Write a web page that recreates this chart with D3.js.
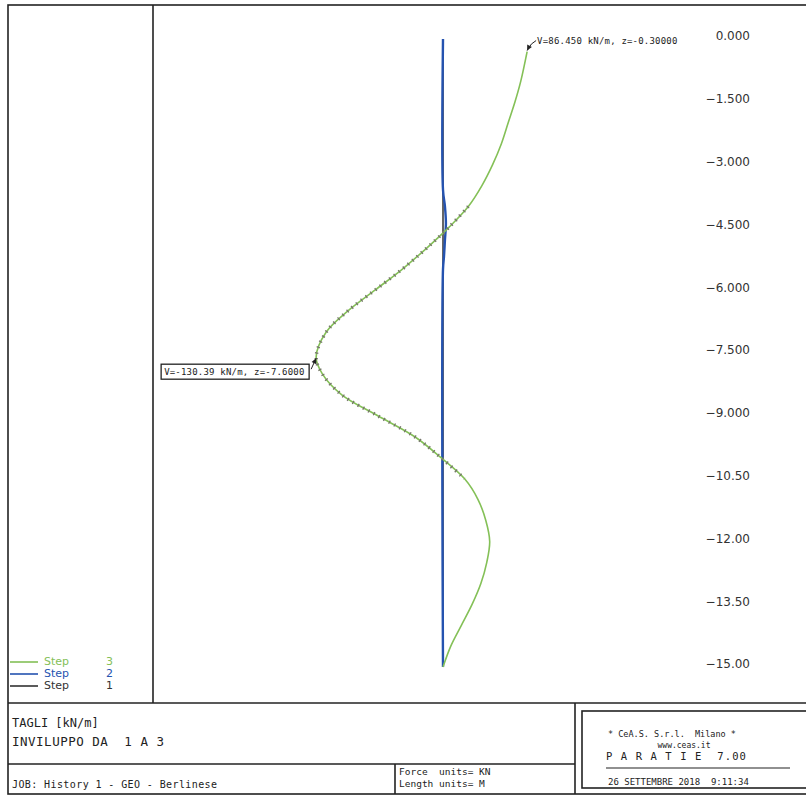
<!DOCTYPE html>
<html>
<head>
<meta charset="utf-8">
<script src="https://cdn.jsdelivr.net/npm/d3@7"></script>
<style>
	body { margin: 0; background: #fff; }
	svg { display: block; }
	.frame { fill: none; stroke: #222; stroke-width: 1.6; }
	.mono { font-family: "DejaVu Sans Mono", monospace; fill: #222; white-space: pre; }
	.tick text { font-family: "DejaVu Sans", sans-serif; font-size: 12px; fill: #333; }
</style>
</head>
<body>
<svg id="chart" width="806" height="796"></svg>
<script>
'use strict';

var STEP3_COLOR = "#84c057";
var STEP2_COLOR = "#2553b0";
var STEP1_COLOR = "#333333";

// depth (m) and shear V (kN/m), envelope step 3
var step3Depth = [-0.3, -1.0, -1.5, -2.0, -2.5, -3.0, -3.5, -4.0, -4.5, -5.0, -5.5, -6.0, -6.5, -7.0, -7.6,
	-8.0, -8.5, -9.0, -9.5, -10.0, -10.5, -11.0, -11.5, -12.0, -12.5, -13.0, -13.5, -14.0, -14.5, -15.0];
var step3V = [86.45, 80, 74, 67, 60, 51, 40, 26, 6, -17, -42, -70, -98, -120, -130.39,
	-124, -104, -67, -29, -2, 22, 36, 44, 48, 45, 39, 30, 19, 8, 0];

// step 2: almost zero, small bulge near -4.5 m
var step2Depth = [0, -3.6, -4.0, -4.4, -4.8, -5.2, -5.5, -15];
var step2V = [0, 0, 2, 3, 2, 1, 0, 0];

// step 1: zero
var step1Depth = [0, -15];
var step1V = [0, 0];

var tickDepths = [0, -1.5, -3, -4.5, -6, -7.5, -9, -10.5, -12, -13.5, -15];
var tickLabels = ["0.000", "\u22121.500", "\u22123.000", "\u22124.500", "\u22126.000", "\u22127.500",
	"\u22129.000", "\u221210.50", "\u221212.00", "\u221213.50", "\u221215.00"];

var legendItems = [
	{ label: "Step", n: "3", color: STEP3_COLOR },
	{ label: "Step", n: "2", color: STEP2_COLOR },
	{ label: "Step", n: "1", color: STEP1_COLOR }
];

var svg = d3.select("#chart");

var y = d3.scaleLinear().domain([0, -15]).range([39, 667]);
var x = d3.scaleLinear().domain([0, 100]).range([443, 540.3]);

function toPoints(depths, values) {
	return depths.map(function (d, i) { return { z: d, v: values[i] }; });
}

var line = d3.line()
	.x(function (d) { return x(d.v); })
	.y(function (d) { return y(d.z); })
	.curve(d3.curveCatmullRom);

// ---- frame
svg.append("rect").attr("class", "frame")
	.attr("x", 8).attr("y", 5).attr("width", 810).attr("height", 789);
svg.append("line").attr("class", "frame")
	.attr("x1", 153).attr("x2", 153).attr("y1", 5).attr("y2", 703);
svg.append("line").attr("class", "frame")
	.attr("x1", 8).attr("x2", 806).attr("y1", 703).attr("y2", 703);
svg.append("line").attr("class", "frame")
	.attr("x1", 8).attr("x2", 575).attr("y1", 764).attr("y2", 764);
svg.append("line").attr("class", "frame")
	.attr("x1", 395).attr("x2", 395).attr("y1", 764).attr("y2", 794);
svg.append("line").attr("class", "frame")
	.attr("x1", 575).attr("x2", 575).attr("y1", 703).attr("y2", 794);
svg.append("rect").attr("class", "frame")
	.attr("x", 582).attr("y", 711).attr("width", 240).attr("height", 77);
svg.append("line").attr("class", "frame").style("stroke-width", 1.2)
	.attr("x1", 606).attr("x2", 790).attr("y1", 768).attr("y2", 768);

// ---- depth labels
var axis = svg.append("g")
	.attr("transform", "translate(750,-3)")
	.call(d3.axisLeft(y)
		.tickValues(tickDepths)
		.tickSize(0)
		.tickPadding(0)
		.tickFormat(function (d, i) { return tickLabels[i]; }));
axis.select(".domain").remove();

// ---- curves
svg.append("path")
	.datum(toPoints(step1Depth, step1V))
	.attr("d", line)
	.attr("fill", "none")
	.attr("stroke", STEP1_COLOR)
	.attr("stroke-width", 1.5);

svg.append("path")
	.datum(toPoints(step2Depth, step2V))
	.attr("d", line)
	.attr("fill", "none")
	.attr("stroke", STEP2_COLOR)
	.attr("stroke-width", 2.4);

var step3Pts = toPoints(step3Depth, step3V);
svg.append("path")
	.datum(step3Pts)
	.attr("d", line)
	.attr("fill", "none")
	.attr("stroke", STEP3_COLOR)
	.attr("stroke-width", 1.6);

// grey hatching where the scan shows it (middle part)
svg.append("path")
	.datum(step3Pts.filter(function (d) { return d.z <= -4.0 && d.z >= -10.5; }))
	.attr("d", line)
	.attr("fill", "none")
	.attr("stroke", "#76766a")
	.attr("stroke-width", 3.5)
	.attr("stroke-dasharray", "1.3,4.6");

// ---- annotations
function arrowHead(g, tx, ty, fx, fy) {
	var a = Math.atan2(ty - fy, tx - fx), L = 6, w = 0.45;
	g.append("path")
		.attr("d", "M" + tx + "," + ty +
			"L" + (tx - L * Math.cos(a - w)) + "," + (ty - L * Math.sin(a - w)) +
			"L" + (tx - L * Math.cos(a + w)) + "," + (ty - L * Math.sin(a + w)) + "Z")
		.attr("fill", "#222");
}

var maxPt = step3Pts[0];
var minPt = step3Pts[14];
var ann = svg.append("g");

// max
var mx = x(maxPt.v), my = y(maxPt.z);
ann.append("path")
	.attr("d", "M" + (mx + 9) + "," + (my - 11) + "Q" + (mx + 4) + "," + (my - 9) + " " + mx + "," + (my - 1))
	.attr("fill", "none").attr("stroke", "#222").attr("stroke-width", 1);
arrowHead(ann, mx, my - 1, mx + 3, my - 7);
ann.append("text").attr("class", "mono")
	.attr("x", mx + 10).attr("y", my - 8)
	.style("font-size", "9px")
	.style("letter-spacing", "0.2px")
	.text("V=86.450 kN/m, z=-0.30000");

// min
var nx = x(minPt.v), ny = y(minPt.z);
ann.append("rect")
	.attr("x", nx - 155).attr("y", ny + 7).attr("width", 148).attr("height", 15)
	.attr("fill", "#fff").attr("stroke", "#222").attr("stroke-width", 1.3);
ann.append("text").attr("class", "mono")
	.attr("x", nx - 152).attr("y", ny + 18)
	.style("font-size", "9px")
	.style("letter-spacing", "0.2px")
	.text("V=-130.39 kN/m, z=-7.6000");
ann.append("line")
	.attr("x1", nx - 5).attr("y1", ny + 12).attr("x2", nx).attr("y2", ny + 1)
	.attr("stroke", "#222").attr("stroke-width", 1);
arrowHead(ann, nx, ny + 1, nx - 3, ny + 8);

// ---- legend
var leg = svg.append("g").attr("transform", "translate(10,662)");
legendItems.forEach(function (item, i) {
	var g = leg.append("g").attr("transform", "translate(0," + (i * 12) + ")");
	g.append("line").attr("x1", 0).attr("x2", 28).attr("y1", 0).attr("y2", 0)
		.attr("stroke", item.color).attr("stroke-width", 1.6);
	g.append("text").attr("x", 34).attr("y", 3)
		.style("font-family", "DejaVu Sans, sans-serif").style("font-size", "11px")
		.attr("fill", item.color).text(item.label);
	g.append("text").attr("x", 96).attr("y", 3)
		.style("font-family", "DejaVu Sans, sans-serif").style("font-size", "11px")
		.attr("fill", item.color).text(item.n);
});

// ---- title block
function txt(tx, ty, size, s, spacing, anchor) {
	svg.append("text").attr("class", "mono")
		.attr("x", tx).attr("y", ty)
		.attr("text-anchor", anchor || "start")
		.style("font-size", size + "px")
		.style("letter-spacing", (spacing || 0) + "px")
		.text(s);
}
txt(12, 727, 12, "TAGLI [kN/m]");
txt(12, 746, 12.5, "INVILUPPO DA  1 A 3", 0.5);
txt(12, 788, 10, "JOB: History 1 - GEO - Berlinese", 0.4);
txt(399, 775, 9.5, "Force  units= KN");
txt(399, 787, 9.5, "Length units= M");
txt(608, 737, 8.5, "* CeA.S. S.r.l.  Milano *");
txt(684, 748, 8, "www.ceas.it", 0, "middle");
txt(606, 760, 10.5, "P A R A T I E  7.00", 1.1);
txt(608, 785, 9, "26 SETTEMBRE 2018  9:11:34");
</script>
</body>
</html>
